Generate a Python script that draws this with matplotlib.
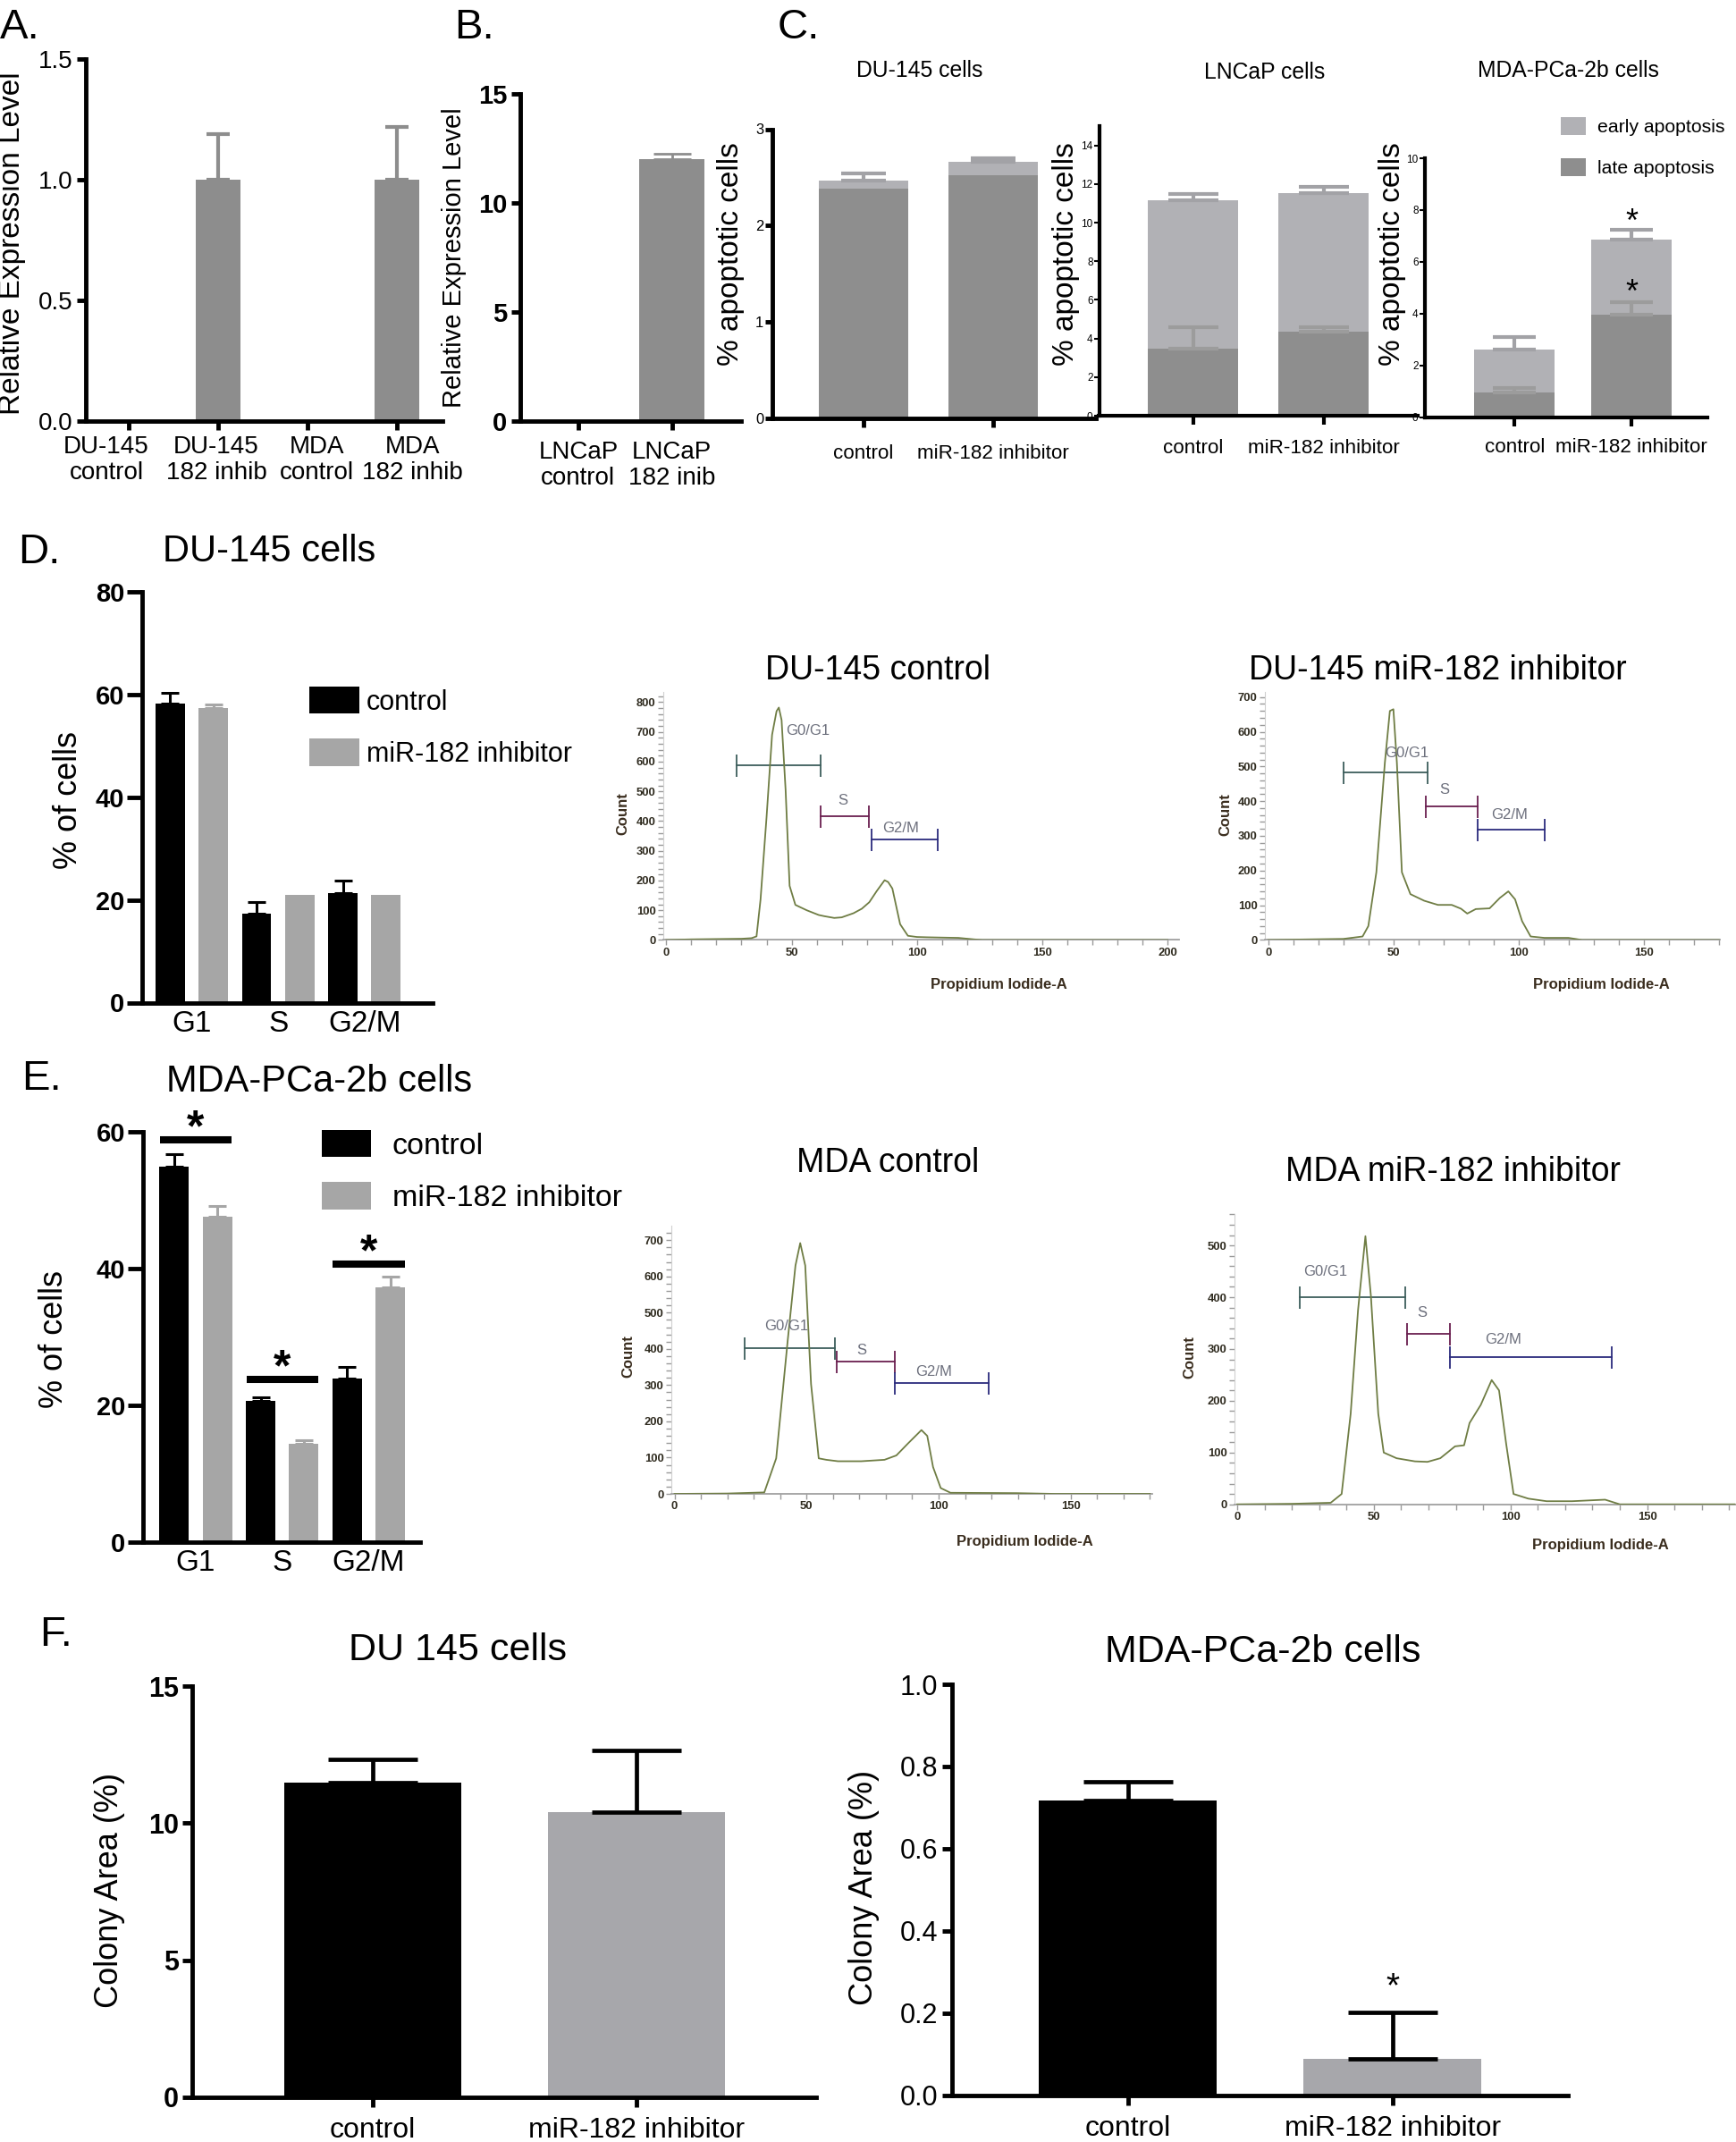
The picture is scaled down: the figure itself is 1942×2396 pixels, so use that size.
# Multi-panel figure: miR-182 inhibitor effects (expression, apoptosis, cell cycle, colonies)

import numpy as np
import matplotlib
matplotlib.use("Agg")
import matplotlib.pyplot as plt
import matplotlib.transforms as mtrans
from matplotlib import font_manager
from matplotlib.patches import Patch

W, H = 1942, 2396

_names = {f.name for f in font_manager.fontManager.ttflist}
NARROW = "Liberation Sans Narrow" if "Liberation Sans Narrow" in _names else "Liberation Sans"
NSCALE = 1.0 if NARROW == "Liberation Sans Narrow" else 0.85
plt.rcParams["font.family"] = ["Liberation Sans", "DejaVu Sans"]

# ---- data ----
# A: relative expression
a_labels = ["DU-145\ncontrol", "DU-145\n182 inhib", "MDA\ncontrol", "MDA\n182 inhib"]
a_vals = [0, 1.0, 0, 1.0]
a_err = [0, 0.19, 0, 0.22]

# B
b_labels = ["LNCaP\ncontrol", "LNCaP\n182 inib"]
b_vals = [0, 12.0]
b_err = [0, 0.25]

# C: apoptosis (late = bottom, early = top)
c_labels = ["control", "miR-182 inhibitor"]
du_late = [2.38, 2.52]
du_early = [0.09, 0.14]
du_late_err = [0.0, 0.0]
du_tot_err = [0.07, 0.04]
ln_late = [3.45, 4.35]
ln_early = [7.71, 7.18]
ln_late_err = [1.15, 0.25]
ln_tot_err = [0.30, 0.33]
md_late = [0.97, 3.94]
md_early = [1.64, 2.91]
md_late_err = [0.16, 0.49]
md_tot_err = [0.48, 0.39]

# D / E: cell cycle
phases = ["G1", "S", "G2/M"]
d_ctrl = [58.3, 17.3, 21.3]
d_ctrl_err = [2.1, 2.2, 2.4]
d_inh = [57.3, 21.0, 21.0]
d_inh_err = [0.7, 0, 0]
e_ctrl = [54.9, 20.6, 23.9]
e_ctrl_err = [1.8, 0.6, 1.7]
e_inh = [47.5, 14.3, 37.2]
e_inh_err = [1.6, 0.6, 1.6]
e_sig = [58.8, 23.8, 40.6]

# flow histograms (Propidium Iodide-A vs Count)
d1_x = [0, 10, 20, 30, 34, 36, 37.6, 40, 42.2, 44, 44.9, 46, 47.6, 49.2, 51.5, 56, 60.8, 63, 67, 70,
        74.7, 78, 81, 84, 87.1, 88.5, 90.2, 93.3, 96.4, 100, 104, 110, 116.5, 122.7, 126, 200]
d1_y = [0, 2, 3, 4, 6, 12, 136, 413, 690, 770, 782, 740, 505, 182, 118, 100, 84, 80, 74, 76,
        90, 105, 127, 165, 201, 195, 173, 53, 14, 10, 9, 8, 7, 2, 0, 0]
d2_x = [0, 20, 30, 37.7, 40, 43.2, 46.6, 48.6, 50, 51.4, 53.4, 56.8, 62.3, 67.8, 73.3, 77, 79.5,
        82.9, 88.4, 92.5, 95.9, 98.6, 101.4, 104.8, 110.3, 119.9, 125.3, 180]
d2_y = [0, 2, 3, 10, 40, 195, 511, 660, 665, 511, 195, 132, 113, 101, 101, 90, 76,
        89, 91, 121, 140, 117, 54, 10, 6, 6, 0, 0]
e1_x = [0, 20, 34, 38.5, 42.9, 45.8, 47.6, 49.5, 51.7, 54.6, 57.5, 61.9, 70.7, 79.5, 84, 88.4,
        93.5, 95.7, 97.9, 100.8, 104.5, 129.5, 144, 180]
e1_y = [0, 1, 4, 98, 426, 630, 692, 630, 303, 98, 94, 90, 90, 94, 106, 139,
        176, 160, 74, 16, 3, 2, 0, 0]
e2_x = [0, 20, 34.2, 38.2, 41.5, 44.2, 46.9, 48.9, 51.6, 53.6, 58.3, 65, 69.6, 74.3, 79.7, 83, 85,
        89.1, 93.1, 95.8, 98.4, 101.1, 106.5, 113.2, 122.5, 134.6, 140, 182]
e2_y = [0, 1, 3, 20, 175, 375, 518, 403, 175, 100, 89, 83, 82, 89, 112, 114, 157,
        192, 240, 220, 117, 20, 11, 6, 6, 9, 0, 0]
gate_names = ["G0/G1", "S", "G2/M"]
d1_gates = [(28, 61.6, 588), (61.6, 80.9, 417), (82, 108.3, 337)]
d1_glab = [(56.5, 703), (70.4, 468), (93.6, 376)]
d2_gates = [(30.1, 63.7, 483), (63, 83.6, 385), (83.8, 110.3, 318)]
d2_glab = [(55.3, 538), (70.5, 432), (96.2, 361)]
e1_gates = [(26.7, 60.9, 403), (61.5, 83.5, 366), (83.5, 118.9, 305)]
e1_glab = [(42.4, 463), (70.7, 397), (98.2, 336)]
e2_gates = [(22.8, 61.6, 400), (62, 77.9, 329), (77.9, 136.9, 285)]
e2_glab = [(32.1, 450), (67.6, 369), (97.4, 318)]

# F: colony area
f_labels = ["control", "miR-182 inhibitor"]
f_du = [11.48, 10.39]
f_du_err = [0.85, 2.26]
f_md = [0.718, 0.0896]
f_md_err = [0.044, 0.113]

GREY = "#8d8d8d"
EARLY = "#b1b1b5"
LATE = "#8e8e8e"
LIGHT = "#a6a6a6"
GATE_COLS = ["#3d5e5c", "#6a1f4f", "#2b2b7d"]
CURVE = "#6f7d44"

fig = plt.figure(figsize=(W / 100, H / 100), dpi=100)


def box(l, t, r, b):
    ax = fig.add_axes([l / W, 1 - b / H, (r - l) / W, (b - t) / H])
    ax.patch.set_visible(False)
    return ax


def ftext(x, y, s, **kw):
    fig.text(x / W, 1 - y / H, s, **kw)


def prism(ax, lw=3.5, ylen=7, xlen=7):
    ax.spines["top"].set_visible(False)
    ax.spines["right"].set_visible(False)
    ax.spines["left"].set_linewidth(lw)
    ax.spines["bottom"].set_linewidth(lw)
    ax.tick_params(axis="y", width=lw, length=ylen, direction="out")
    ax.tick_params(axis="x", width=lw, length=xlen, direction="out")


def upbars(ax, x, tops, errs, color, capsize, lw):
    x = np.asarray(x, float)
    tops = np.asarray(tops, float)
    errs = np.asarray(errs, float)
    m = errs > 0
    if m.any():
        ax.errorbar(x[m], tops[m], yerr=[np.zeros(m.sum()), errs[m]], fmt="none",
                    ecolor=color, elinewidth=lw, capsize=capsize, capthick=lw, zorder=3)


def panel_a():
    ax = box(96, 66, 495, 470.5)
    x = np.arange(len(a_vals))
    ax.bar(x, a_vals, width=0.5, color=GREY, zorder=2)
    upbars(ax, x, a_vals, a_err, GREY, 9.5, 3)
    ax.set_xlim(-0.48, 3.51)
    ax.set_ylim(0, 1.5)
    ax.set_yticks([0, 0.5, 1.0, 1.5])
    ax.set_yticklabels(["0.0", "0.5", "1.0", "1.5"], fontsize=20)
    ax.set_xticks(x)
    ax.set_xticklabels(a_labels, fontsize=20, linespacing=1.15)
    prism(ax)
    ax.tick_params(axis="x", pad=5)
    # the category labels sit a little off their ticks in the original
    for lab, dx in zip(ax.get_xticklabels(), [-25, -2, 10, 17]):
        lab.set_transform(lab.get_transform() + mtrans.ScaledTranslation(dx / 100, 0, fig.dpi_scale_trans))
    ftext(14, 272, "Relative Expression Level", rotation=90, ha="center", va="center", fontsize=24)
    ftext(0, 43, "A.", fontsize=34)


def panel_b():
    ax = box(582, 105, 829, 470.5)
    x = np.arange(len(b_vals))
    ax.bar(x, b_vals, width=0.69, color=GREY, zorder=2)
    upbars(ax, x, b_vals, b_err, GREY, 15, 2)
    ax.set_xlim(-0.62, 1.74)
    ax.set_ylim(0, 15)
    ax.set_yticks([0, 5, 10, 15])
    ax.set_yticklabels(["0", "5", "10", "15"], fontsize=21, fontweight="bold")
    ax.set_xticks(x)
    ax.set_xticklabels(b_labels, fontsize=20, linespacing=1.15)
    prism(ax)
    ax.tick_params(axis="x", pad=9)
    ftext(508, 288, "Relative Expression Level", rotation=90, ha="center", va="center", fontsize=21)
    ftext(508, 43, "B.", fontsize=34)


def stacked(ax, late, early, late_err, tot_err, capsize):
    x = np.arange(len(late))
    ax.bar(x, late, width=0.69, color=LATE, zorder=2)
    ax.bar(x, early, bottom=late, width=0.69, color=EARLY, zorder=2)
    tot = np.add(late, early)
    upbars(ax, x, late, late_err, "#9c9c9c", capsize, 3)
    upbars(ax, x, tot, tot_err, "#a2a2a6", capsize, 3)
    ax.set_xticks(x)
    ax.set_xticklabels(c_labels, fontsize=19 * NSCALE, family=NARROW)
    return x, tot


def panel_c():
    ax1 = box(864, 144.5, 1226, 468)
    stacked(ax1, du_late, du_early, du_late_err, du_tot_err, 18)
    ax1.set_xlim(-0.70, 1.79)
    ax1.set_ylim(0, 3)
    ax1.set_yticks([0, 1, 2, 3])
    ax1.set_yticklabels(["0", "1", "2", "3"], fontsize=14 * NSCALE, family=NARROW)
    prism(ax1, lw=3.5, ylen=6, xlen=7)
    ax1.tick_params(axis="y", pad=1)
    ax1.tick_params(axis="x", pad=14)

    ax2 = box(1229.5, 141, 1586, 465)
    stacked(ax2, ln_late, ln_early, ln_late_err, ln_tot_err, 20)
    ax2.set_xlim(-0.72, 1.72)
    ax2.set_ylim(0, 15)
    ax2.set_yticks(range(0, 15, 2))
    ax2.set_yticklabels([str(v) for v in range(0, 15, 2)], fontsize=10 * NSCALE, family=NARROW)
    prism(ax2, lw=3, ylen=4, xlen=7)
    ax2.tick_params(axis="y", width=1.5, pad=1)
    ax2.tick_params(axis="x", pad=12)

    ax3 = box(1593.5, 177, 1910, 466.6)
    x3, tot3 = stacked(ax3, md_late, md_early, md_late_err, md_tot_err, 17)
    ax3.set_xlim(-0.77, 1.65)
    ax3.set_ylim(0, 10)
    ax3.set_yticks(range(0, 11, 2))
    ax3.set_yticklabels([str(v) for v in range(0, 11, 2)], fontsize=10 * NSCALE, family=NARROW)
    prism(ax3, lw=3, ylen=4, xlen=7)
    ax3.tick_params(axis="y", width=1.5, pad=1)
    ax3.tick_params(axis="x", pad=10)
    ax3.text(x3[1], tot3[1] + md_tot_err[1] - 0.35, "*", ha="center", va="bottom", fontsize=26)
    ax3.text(x3[1], md_late[1] + md_late_err[1] - 0.25, "*", ha="center", va="bottom", fontsize=26)
    ax3.legend([Patch(facecolor=EARLY), Patch(facecolor=LATE)], ["early apoptosis", "late apoptosis"],
               loc="upper left", bbox_to_anchor=(1746 / W, 1 - 131 / H), bbox_transform=fig.transFigure,
               frameon=False, borderpad=0, borderaxespad=0, handlelength=1.32, handleheight=1.08,
               handletextpad=0.6, labelspacing=1.15,
               prop={"family": NARROW, "size": 18 * NSCALE})

    kw = dict(ha="center", va="baseline", fontsize=21 * NSCALE, family=NARROW)
    ftext(1029, 86, "DU-145 cells", **kw)
    ftext(1415, 88, "LNCaP cells", **kw)
    ftext(1754, 86, "MDA-PCa-2b cells", **kw)
    for xx in (817, 1192, 1557):
        ftext(xx, 284, "% apoptotic cells", rotation=90, ha="center", va="center", fontsize=24)
    ftext(870, 43, "C.", fontsize=34)


def cycle_panel(l, t, r, b, ctrl, ctrl_err, inh, inh_err, ymax, xlim):
    ax = box(l, t, r, b)
    g = np.arange(len(phases))
    ax.bar(g - 0.25, ctrl, width=0.34, color="black", zorder=2)
    ax.bar(g + 0.25, inh, width=0.34, color=LIGHT, zorder=2)
    upbars(ax, g - 0.25, ctrl, ctrl_err, "black", 7, 2.2)
    upbars(ax, g + 0.25, inh, inh_err, LIGHT, 7, 2.2)
    ax.set_xlim(*xlim)
    ax.set_ylim(0, ymax)
    ax.set_yticks(range(0, ymax + 1, 20))
    ax.set_yticklabels([str(v) for v in range(0, ymax + 1, 20)], fontsize=21, fontweight="bold")
    ax.set_xticks(g)
    ax.set_xticklabels(phases, fontsize=24)
    prism(ax, lw=3.5, ylen=12, xlen=0)
    ax.tick_params(axis="y", pad=2)
    ax.tick_params(axis="x", pad=6)
    return ax, g


def histo(l, t, r, b, xs, ys, gates, glab, xlim, ymax, xmajor, title, tx, ty, cnt, pia):
    ax = box(l, t, r, b)
    ax.plot(xs, ys, color=CURVE, lw=1.3, zorder=3)
    for (x1, x2, y), c in zip(gates, GATE_COLS):
        ax.plot([x1, x2], [y, y], color=c, lw=1.3)
        ax.plot([x1, x2], [y, y], ls="none", marker="|", ms=18, mew=1.3, color=c)
    for (gx, gy), name in zip(glab, gate_names):
        ax.text(gx, gy, name, ha="center", va="center", fontsize=12, color="#6c6f7c")
    ax.set_xlim(*xlim)
    ax.set_ylim(0, ymax)
    ax.set_xticks(xmajor)
    ax.set_xticks(np.arange(0, xlim[1], 10), minor=True)
    ax.set_yticks(np.arange(0, ymax, 100))
    ax.set_yticks(np.arange(0, ymax, 20), minor=True)
    for lab in ax.get_xticklabels() + ax.get_yticklabels():
        lab.set_fontsize(11 * NSCALE)
        lab.set_family(NARROW)
        lab.set_fontweight("bold")
        lab.set_color("#2e2a1e")
    ax.tick_params(which="both", length=4, width=1, color="#9a9a9a", pad=2)
    ax.spines["top"].set_visible(False)
    ax.spines["right"].set_visible(False)
    ax.spines["left"].set_color("#d0d0d0")
    ax.spines["bottom"].set_color("#a0a0a0")
    ax.spines["bottom"].set_linewidth(1.3)
    ftext(tx, ty, title, ha="center", va="baseline", fontsize=27)
    ftext(cnt[0], cnt[1], "Count", rotation=90, ha="center", va="center", fontsize=12,
          fontweight="bold", color="#3a2d1e")
    ftext(pia[0], pia[1], "Propidium Iodide-A", ha="center", va="center", fontsize=12,
          fontweight="bold", color="#3a2d1e")


def panel_d():
    ax, g = cycle_panel(158.5, 662, 484, 1121.5, d_ctrl, d_ctrl_err, d_inh, d_inh_err, 80, (-0.58, 2.79))
    ax.legend([Patch(facecolor="black"), Patch(facecolor=LIGHT)], ["control", "miR-182 inhibitor"],
              loc="upper left", bbox_to_anchor=(346 / W, 1 - 768 / H), bbox_transform=fig.transFigure,
              frameon=False, borderpad=0, borderaxespad=0, handlelength=1.83, handleheight=1.15,
              handletextpad=0.25, labelspacing=0.85, fontsize=22)
    ftext(76, 895, "% of cells", rotation=90, ha="center", va="center", fontsize=26)
    ftext(301, 628, "DU-145 cells", ha="center", va="baseline", fontsize=30)
    ftext(20, 630, "D.", fontsize=34)
    histo(742, 773.5, 1319, 1051.4, d1_x, d1_y, d1_gates, d1_glab, (-1.2, 204.6), 836,
          [0, 50, 100, 150, 200], "DU-145 control", 982, 760, (697, 910), (1117, 1101))
    histo(1415, 773.5, 1923.5, 1051.4, d2_x, d2_y, d2_gates, d2_glab, (-1.3, 180.2), 716,
          [0, 50, 100, 150], "DU-145 miR-182 inhibitor", 1608, 760, (1371, 911), (1791, 1101))


def panel_e():
    ax, g = cycle_panel(159.5, 1265.7, 469.5, 1724.7, e_ctrl, e_ctrl_err, e_inh, e_inh_err, 60, (-0.615, 2.59))
    ax.hlines(e_sig, g - 0.415, g + 0.415, color="black", lw=5.8, clip_on=False)
    for gx, sy in zip(g, e_sig):
        ax.text(gx, sy - 1.5, "*", ha="center", va="bottom", fontsize=36, fontweight="bold", clip_on=False)
    ax.legend([Patch(facecolor="black"), Patch(facecolor=LIGHT)], ["control", "miR-182 inhibitor"],
              loc="upper left", bbox_to_anchor=(359.6 / W, 1 - 1264 / H), bbox_transform=fig.transFigure,
              frameon=False, borderpad=0, borderaxespad=0, handlelength=1.62, handleheight=0.99,
              handletextpad=0.7, labelspacing=0.72, fontsize=24.5)
    ftext(61, 1498, "% of cells", rotation=90, ha="center", va="center", fontsize=26)
    ftext(357, 1221, "MDA-PCa-2b cells", ha="center", va="baseline", fontsize=30)
    ftext(24, 1219, "E.", fontsize=34)
    histo(751, 1371, 1289, 1671, e1_x, e1_y, e1_gates, e1_glab, (-1.2, 180.9), 740,
          [0, 50, 100, 150], "MDA control", 993, 1311, (703, 1517), (1146, 1724))
    histo(1381, 1357.8, 1942, 1682.7, e2_x, e2_y, e2_gates, e2_glab, (-1.0, 182.5), 561,
          [0, 50, 100, 150], "MDA miR-182 inhibitor", 1625, 1321, (1331, 1518), (1790, 1729))


def colony(l, t, r, b, vals, errs, xlim, ymax, yticks, ylabels, bold):
    ax = box(l, t, r, b)
    x = np.arange(len(vals))
    ax.bar(x, vals, width=0.672, color=["black", "#a7a7ab"], zorder=2)
    upbars(ax, x, vals, errs, "black", 36, 3.4)
    ax.set_xlim(*xlim)
    ax.set_ylim(0, ymax)
    ax.set_yticks(yticks)
    ax.set_yticklabels(ylabels, fontsize=22, fontweight="bold" if bold else "normal")
    ax.set_xticks(x)
    ax.set_xticklabels(f_labels, fontsize=23)
    prism(ax, lw=3.5, ylen=8, xlen=8)
    ax.tick_params(axis="x", pad=8)
    ax.tick_params(axis="y", pad=3)
    return ax, x


def panel_f():
    colony(215, 1886, 913, 2345.8, f_du, f_du_err, (-0.686, 1.683), 15, [0, 5, 10, 15],
           ["0", "5", "10", "15"], True)
    ax, x = colony(1064.8, 1884, 1753.9, 2343.8, f_md, f_md_err, (-0.666, 1.662), 1.0,
                   [0, 0.2, 0.4, 0.6, 0.8, 1.0], ["0.0", "0.2", "0.4", "0.6", "0.8", "1.0"], False)
    ax.text(x[1], f_md[1] + f_md_err[1] + 0.02, "*", ha="center", va="bottom", fontsize=28)
    ftext(123, 2114, "Colony Area (%)", rotation=90, ha="center", va="center", fontsize=26)
    ftext(966, 2111, "Colony Area (%)", rotation=90, ha="center", va="center", fontsize=26)
    ftext(512, 1857, "DU 145 cells", ha="center", va="baseline", fontsize=31)
    ftext(1413, 1859, "MDA-PCa-2b cells", ha="center", va="baseline", fontsize=31)
    ftext(44, 1841, "F.", fontsize=34)


panel_a()
panel_b()
panel_c()
panel_d()
panel_e()
panel_f()

fig.savefig("out.png", dpi=100)
